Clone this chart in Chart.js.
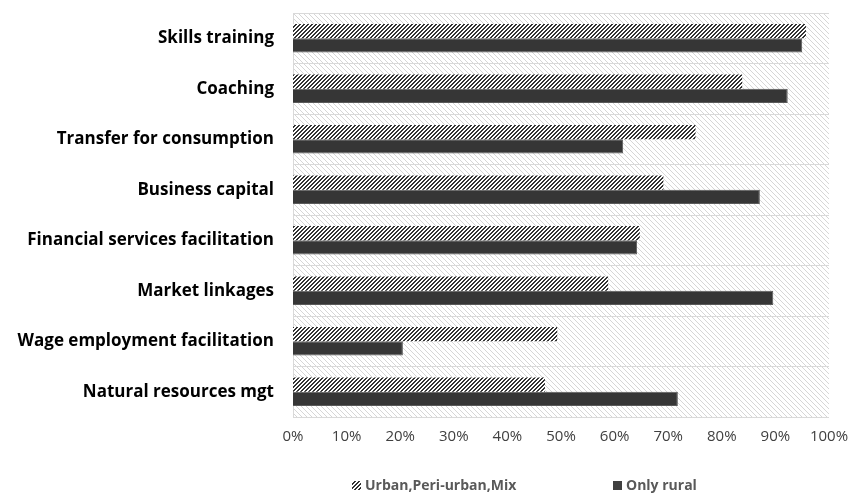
<!DOCTYPE html>
<html>
<head>
<meta charset="utf-8">
<script src="https://cdn.jsdelivr.net/npm/chart.js@4.4.1/dist/chart.umd.min.js"></script>
<style>
  html, body { margin: 0; padding: 0; background: #ffffff; }
  #wrap { width: 865px; height: 500px; position: relative; }
</style>
</head>
<body>
<div id="wrap"><canvas id="c" width="865" height="500"></canvas></div>
<script>
const categories = [
  'Skills training',
  'Coaching',
  'Transfer for consumption',
  'Business capital',
  'Financial services facilitation',
  'Market linkages',
  'Wage employment facilitation',
  'Natural resources mgt'
];
const urbanLabel = 'Urban,Peri-urban,Mix';
const ruralLabel = 'Only rural';
const urbanValues = [95.7, 83.8, 75.1, 69.1, 64.7, 58.8, 49.3, 47.0];
const ruralValues = [95.0, 92.3, 61.6, 87.1, 64.2, 89.6, 20.5, 71.8];
const xTicks = [0, 10, 20, 30, 40, 50, 60, 70, 80, 90, 100];

function makePattern(size, color, dir, width, bg) {
  const c = document.createElement('canvas');
  c.width = size; c.height = size;
  const g = c.getContext('2d');
  if (bg) { g.fillStyle = bg; g.fillRect(0, 0, size, size); }
  g.fillStyle = color;
  for (let i = 0; i < size; i++) {
    for (let w = 0; w < width; w++) {
      const y = dir === '/' ? ((size - 1 - i + w) % size) : ((i + w) % size);
      g.fillRect(i, y, 1, 1);
    }
  }
  return g.createPattern(c, 'repeat');
}

const ctx = document.getElementById('c').getContext('2d');
const urbanPattern = makePattern(4, '#333333', '/', 2, '#ffffff');
const bgPattern = makePattern(5, '#d6d6d6', '\\', 1, '#ffffff');

const plotBg = {
  id: 'plotBg',
  beforeDraw(chart) {
    const a = chart.chartArea;
    const g = chart.ctx;
    g.save();
    g.fillStyle = bgPattern;
    g.fillRect(a.left, a.top, a.right - a.left, a.bottom - a.top);
    g.restore();
  }
};

const customLegend = {
  id: 'customLegend',
  afterDraw(chart) {
    const g = chart.ctx;
    const ds = chart.data.datasets;
    const items = [
      { x: 352, fill: urbanPattern, text: ds[0].label },
      { x: 613, fill: '#404040', text: ds[1].label }
    ];
    const y = 485;
    g.save();
    g.font = 'bold 14px "Open Sans"';
    g.textBaseline = 'middle';
    g.textAlign = 'left';
    items.forEach(it => {
      g.fillStyle = it.fill;
      g.fillRect(it.x, y - 4, 9, 9);
      g.fillStyle = '#595959';
      g.fillText(it.text, it.x + 13, y + 1);
    });
    g.restore();
  }
};

new Chart(ctx, {
  type: 'bar',
  data: {
    labels: categories,
    datasets: [
      {
        label: urbanLabel,
        data: urbanValues,
        backgroundColor: urbanPattern,
        borderWidth: 0,
        barPercentage: 1.0,
        categoryPercentage: 0.56
      },
      {
        label: ruralLabel,
        data: ruralValues,
        backgroundColor: '#363636',
        borderColor: '#5a5a5a',
        borderWidth: 1,
        barPercentage: 1.0,
        categoryPercentage: 0.56
      }
    ]
  },
  options: {
    indexAxis: 'y',
    responsive: false,
    animation: false,
    devicePixelRatio: 1,
    layout: { padding: { left: 0, right: 36, top: 13, bottom: 0 } },
    plugins: {
      legend: { display: false },
      tooltip: { enabled: false }
    },
    scales: {
      x: {
        min: 0,
        max: 100,
        afterBuildTicks(scale) { scale.ticks = xTicks.map(v => ({ value: v })); },
        afterFit(scale) { scale.height = 83; scale.paddingLeft = 0; scale.paddingRight = 0; },
        grid: { display: false, drawTicks: false },
        border: { display: false },
        ticks: {
          padding: 11,
          color: '#404040',
          font: { family: '"Open Sans"', size: 15 },
          callback: v => v + '%'
        }
      },
      y: {
        afterFit(scale) { scale.width = 293; scale.paddingTop = 0; scale.paddingBottom = 0; },
        grid: { color: '#d9d9d9', lineWidth: 1, drawTicks: false, offset: true },
        border: { display: true, color: '#d9d9d9' },
        ticks: {
          padding: 19,
          color: '#000000',
          font: { family: '"Open Sans"', size: 17, weight: 'bold' }
        }
      }
    }
  },
  plugins: [plotBg, customLegend]
});
</script>
</body>
</html>
